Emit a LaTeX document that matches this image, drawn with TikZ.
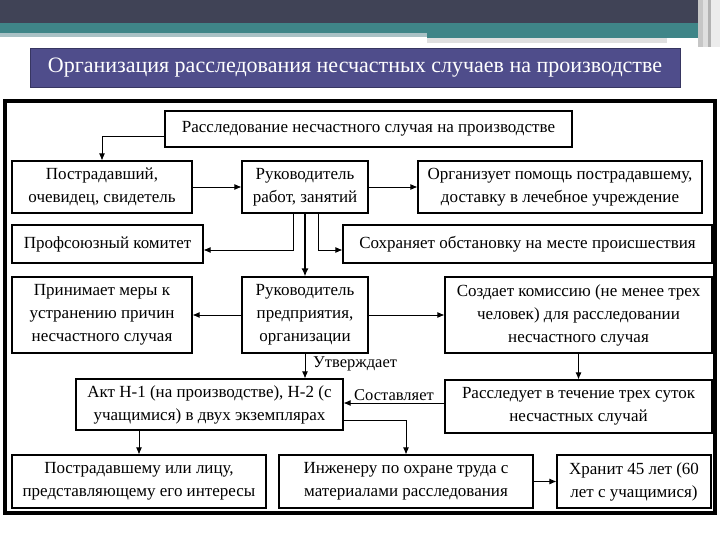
\documentclass[tikz,border=0pt]{standalone}
\usepackage{fontspec}
\setmainfont{Liberation Serif}
\usetikzlibrary{arrows.meta,calc}
\definecolor{topdark}{HTML}{404356}
\definecolor{tealband}{HTML}{3F8588}
\definecolor{teallight}{HTML}{A9C1C5}
\definecolor{titleblue}{HTML}{4F4D8B}
\begin{document}
\begin{tikzpicture}[x=1pt,y=-1pt,
  box/.style={draw, line width=1.1pt, inner sep=0pt, align=center, font=\fontsize{17}{23}\selectfont},
  conn/.style={line width=0.9pt, -{Latex[length=7pt,width=6pt]}},
  thickconn/.style={line width=2.4pt, -{Latex[length=8pt,width=7pt]}},
  lbl/.style={font=\fontsize{16.5}{19}\selectfont, inner sep=0pt}]
\useasboundingbox (0,0) rectangle (720,540);
\fill[white] (0,0) rectangle (720,540);
% header bands
\fill[topdark] (0,0) rectangle (698,23);
\fill[tealband] (0,23) rectangle (698,33);
\fill[teallight] (0,33) rectangle (427,37);
\fill[tealband] (427,33) rectangle (698,38);
\fill[gray!25] (427,38) rectangle (667,43);
\fill[gray!45] (698,0) rectangle (703,47);
\fill[gray!25] (703,0) rectangle (708,47);
\fill[gray!60] (708,0) rectangle (711,47);
\fill[gray!15] (711,0) rectangle (720,47);
% title
\node[fill=titleblue, draw=titleblue!70!black, minimum width=650pt, minimum height=39pt, inner sep=0pt, text=white, font=\fontsize{22}{26}\selectfont] (T) at (355,67.5) {Организация расследования несчастных случаев на производстве};
% frame
\draw[line width=4pt] (5,101) rectangle (715,513);
% boxes
\node[box, minimum width=407pt, minimum height=36pt] (A) at (368.5,129) {Расследование несчастного случая на производстве};
\node[box, minimum width=180pt, minimum height=52pt] (B) at (102,187) {Пострадавший,\\очевидец, свидетель};
\node[box, minimum width=126pt, minimum height=52pt] (C) at (305,187) {Руководитель\\работ, занятий};
\node[box, minimum width=284pt, minimum height=52pt] (D) at (560,187) {Организует помощь пострадавшему,\\доставку в лечебное учреждение};
\node[box, minimum width=191pt, minimum height=38pt] (E) at (107.5,244) {Профсоюзный комитет};
\node[box, minimum width=369pt, minimum height=38pt] (F) at (527.5,244) {Сохраняет обстановку на месте происшествия};
\node[box, minimum width=180pt, minimum height=76pt] (G) at (102,315) {Принимает меры к\\устранению причин\\несчастного случая};
\node[box, minimum width=126pt, minimum height=76pt] (H) at (305,315) {Руководитель\\предприятия,\\организации};
\node[box, minimum width=267pt, minimum height=76pt] (I) at (578.5,315) {Создает комиссию (не менее трех\\человек) для расследовании\\несчастного случая};
\node[box, minimum width=267pt, minimum height=51pt] (J) at (209.5,404.5) {Акт Н-1 (на производстве), Н-2 (с\\учащимися) в двух экземплярах};
\node[box, minimum width=267pt, minimum height=53pt] (K) at (578.5,406.5) {Расследует в течение трех суток\\несчастных случай};
\node[box, minimum width=254pt, minimum height=53pt] (L) at (139,481.5) {Пострадавшему или лицу,\\представляющему его интересы};
\node[box, minimum width=254pt, minimum height=53pt] (M) at (406,481.5) {Инженеру по охране труда с\\материалами расследования};
\node[box, minimum width=154pt, minimum height=53pt] (N) at (634,481.5) {Хранит 45 лет (60\\лет с учащимися)};
% labels
\node[lbl, anchor=west] (u) at (313,364) {Утверждает};
\node[lbl] (s) at (394,395) {Составляет};
% connectors
\draw[conn] (A.west |- 0,136) -| (B.north);
\draw[conn] (B.east) -- (C.west);
\draw[conn] (C.east) -- (D.west);
\draw[conn] (C.south -| 293,0) |- (E.east |- 0,250);
\draw[conn] (C.south -| 318,0) |- (F.west |- 0,250);
\draw[thickconn] (C.south) -- (H.north);
\draw[conn] (H.west) -- (G.east);
\draw[conn] (H.east) -- (I.west);
\draw[conn] (H.south) -- (J.north -| H.south);
\draw[conn] (I.south) -- (K.north);
\draw[conn] (K.west |- 0,403) -- (J.east |- 0,403);
\draw[conn] (J.south -| L.north) -- (L.north);
\draw[conn] (J.east |- 0,420) -| (M.north);
\draw[conn] (M.east) -- (N.west);
\end{tikzpicture}
\end{document}
